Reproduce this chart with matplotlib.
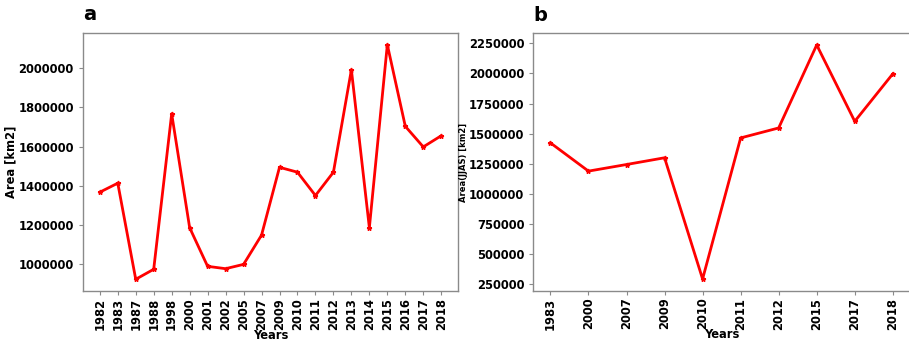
import matplotlib
matplotlib.use("Agg")
import matplotlib.pyplot as plt

# Annual area series
years_a = ["1982", "1983", "1987", "1988", "1998", "2000", "2001", "2002", "2005", "2007",
           "2009", "2010", "2011", "2012", "2013", "2014", "2015", "2016", "2017", "2018"]
area_a = [1368000, 1414000, 924000, 975000, 1768000, 1187000, 990000, 978000, 1000000, 1149000,
          1495000, 1470000, 1351000, 1470000, 1992000, 1187000, 2120000, 1704000, 1599000, 1656000]

# JJAS area series
years_b = ["1983", "2000", "2007", "2009", "2010", "2011", "2012", "2015", "2017", "2018"]
area_b = [1423000, 1188000, 1243000, 1299000, 291000, 1464000, 1547000, 2237000, 1602000, 1997000]

plt.rcParams["font.family"] = "DejaVu Sans"
plt.rcParams["font.weight"] = "bold"

fig = plt.figure(figsize=(9.09, 3.43), dpi=100)
ax_a = fig.add_axes([0.091, 0.1516, 0.4132, 0.7522])
ax_b = fig.add_axes([0.5867, 0.1525, 0.4143, 0.7505])

fs = 8.3
spine_col = "#8a8a8a"


def style(ax, title, ylabel, ylabel_fs, ypad):
    for s in ax.spines.values():
        s.set_color(spine_col)
        s.set_linewidth(1.0)
    ax.tick_params(colors=spine_col, length=3, width=0.8, labelcolor="black", labelsize=fs)
    ax.tick_params(axis="x", rotation=90, pad=2)
    for lbl in ax.get_xticklabels() + ax.get_yticklabels():
        lbl.set_fontweight("bold")
    ax.set_title(title, loc="left", fontsize=14, fontweight="bold", pad=9)
    ax.set_xlabel("Years", fontsize=fs, fontweight="bold", labelpad=-1)
    ax.set_ylabel(ylabel, fontsize=ylabel_fs, fontweight="bold", labelpad=ypad)
    ax.ticklabel_format(axis="y", style="plain", useOffset=False)


ax_a.plot(years_a, area_a, color="red", lw=2, marker="*", markersize=3.5)
style(ax_a, "a", "Area [km2]", fs, 0.5)

ax_b.plot(years_b, area_b, color="red", lw=2, marker="*", markersize=3.5)
style(ax_b, "b", "Area(JJAS) [km2]", 6, 0.5)

fig.savefig("out.png", dpi=100)
